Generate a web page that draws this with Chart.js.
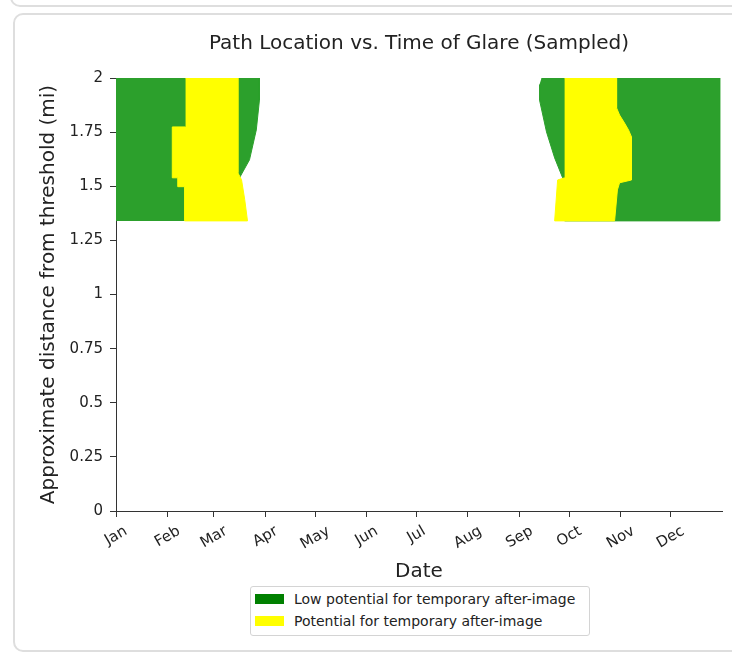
<!DOCTYPE html>
<html>
<head>
<meta charset="utf-8">
<script src="https://cdn.jsdelivr.net/npm/chart.js@4.4.0/dist/chart.umd.min.js"></script>
<style>
html,body{margin:0;padding:0;background:#fff;width:732px;height:654px;overflow:hidden;font-family:"DejaVu Sans",sans-serif;}
#prev{position:absolute;left:10px;top:-40px;width:780px;height:47px;border:2px solid #dedede;border-radius:10px;box-sizing:border-box;}
#card{position:absolute;left:13px;top:13px;width:780px;height:639px;border:2px solid #dedede;border-radius:10px;box-sizing:border-box;}
#wrap{position:absolute;left:0;top:0;width:732px;height:654px;}
#legend{position:absolute;left:250px;top:586px;width:340px;height:50px;border:1px solid #d4d4d4;border-radius:3px;box-sizing:border-box;background:#fff;font-size:14px;color:#222;}
.item{position:absolute;left:4px;height:20px;line-height:20px;white-space:nowrap;}
.sw{display:inline-block;width:29px;height:10px;vertical-align:middle;margin-right:10px;position:relative;top:-1px;}
</style>
</head>
<body>
<div id="prev"></div>
<div id="card"></div>
<div id="wrap"><canvas id="c" width="732" height="654"></canvas></div>
<div id="legend"></div>
<script>
// ---- text ----
const chartTitle = 'Path Location vs. Time of Glare (Sampled)';
const xTitle = 'Date';
const yTitle = 'Approximate distance from threshold (mi)';
const monthLabels = ['Jan','Feb','Mar','Apr','May','Jun','Jul','Aug','Sep','Oct','Nov','Dec'];
const monthStartDays = [0,31,59,90,120,151,181,212,243,273,304,334];
const yTickValues = [0,0.25,0.5,0.75,1,1.25,1.5,1.75,2];

// ---- legend ----
const legendLabels = ['Low potential for temporary after-image','Potential for temporary after-image'];
const legendColors = ['#008000','#ffff00'];

// ---- glare regions (outline): x = day of year, y = distance (mi) ----
// Low potential (green), spring
const lowSpringDay = [0, 0, 86.4, 86.4, 84.5, 80.4, 74.4, 73.4, 73.4];
const lowSpringMi  = [1.34, 2.0, 2.0, 1.898, 1.76, 1.622, 1.539, 1.45, 1.34];
// Low potential (green), autumn
const lowAutumnDay = [256.3, 363.6, 363.6, 270.2, 270.2, 269.0, 264.2, 259.3, 255.1, 255.1];
const lowAutumnMi  = [2.0, 2.0, 1.34, 1.34, 1.53, 1.539, 1.631, 1.751, 1.898, 1.97];
// Potential (yellow), spring
const afterSpringDay = [41.9, 73.4, 73.4, 75.6, 77.5, 79.2, 41.3, 41.3, 37.2, 37.2, 33.9, 33.9, 41.9];
const afterSpringMi  = [2.0, 2.0, 1.562, 1.53, 1.44, 1.34, 1.34, 1.498, 1.498, 1.539, 1.539, 1.774, 1.774];
// Potential (yellow), autumn
const afterAutumnDay = [270.2, 301.5, 301.5, 303.3, 306.3, 308.7, 310.5, 310.5, 303.3, 302.0, 300.3, 264.2, 266.0, 270.2];
const afterAutumnMi  = [2.0, 2.0, 1.862, 1.829, 1.792, 1.76, 1.728, 1.529, 1.516, 1.483, 1.34, 1.34, 1.529, 1.539];

const plotGreen = '#2ca02c';
const plotYellow = '#ffff00';
const textColor = '#222';
const fontFam = '"DejaVu Sans", sans-serif';

function pts(xs, ys){ return xs.map((x,i)=>({x:x, y:ys[i]})); }
function region(label, xs, ys, color, order){
  return {label, data: pts(xs, ys), borderColor: color, backgroundColor: color, borderWidth: 1,
    fill: 'shape', pointRadius: 0, pointHoverRadius: 0, tension: 0, order};
}

// legend (HTML)
const lg = document.getElementById('legend');
legendLabels.forEach((t,i)=>{
  const d = document.createElement('div');
  d.className='item'; d.style.top = (i===0 ? 2 : 24) + 'px';
  d.innerHTML = '<span class="sw" style="background:'+legendColors[i]+'"></span>';
  d.appendChild(document.createTextNode(t));
  lg.appendChild(d);
});

const decor = {
  id: 'decor',
  afterDraw(chart){
    const {ctx, chartArea: ca, scales: {x}} = chart;
    ctx.save();
    ctx.fillStyle = textColor;
    ctx.font = '20px ' + fontFam;
    ctx.textAlign = 'center'; ctx.textBaseline = 'middle';
    ctx.fillText(chartTitle, (ca.left + ca.right)/2, 44);
    const fs = 15;
    ctx.font = fs + 'px ' + fontFam;
    const a = Math.PI/6;
    monthStartDays.forEach((d,i)=>{
      const px = x.getPixelForValue(d);
      const w = ctx.measureText(monthLabels[i]).width;
      const boxH = w*Math.sin(a) + fs*0.95*Math.cos(a);
      const cy = ca.bottom + 13 + boxH/2;
      ctx.save(); ctx.translate(px, cy); ctx.rotate(-a);
      ctx.fillText(monthLabels[i], 0, 0);
      ctx.restore();
    });
    ctx.restore();
  }
};

new Chart(document.getElementById('c'), {
  type: 'line',
  data: { datasets: [
    region('Potential for temporary after-image', afterSpringDay, afterSpringMi, plotYellow, 0),
    region('Potential for temporary after-image', afterAutumnDay, afterAutumnMi, plotYellow, 0),
    region('Low potential for temporary after-image', lowSpringDay, lowSpringMi, plotGreen, 1),
    region('Low potential for temporary after-image', lowAutumnDay, lowAutumnMi, plotGreen, 1)
  ]},
  options: {
    responsive: false, animation: false, events: [],
    layout: { padding: { left: 0, right: 10, top: 78, bottom: 63 } },
    plugins: { legend: {display:false}, tooltip: {enabled:false}, title: {display:false} },
    scales: {
      x: {
        type: 'linear', min: 0, max: 365,
        afterBuildTicks(s){ s.ticks = monthStartDays.map(v=>({value:v})); },
        afterFit(s){ s.height = 80; },
        ticks: { display: false },
        grid: { drawOnChartArea: false, drawTicks: true, tickLength: 6, color: '#333', lineWidth: 1 },
        border: { display: true, color: '#333', width: 1 },
        title: { display: true, text: xTitle, color: textColor, font: {family: fontFam, size: 20}, padding: {top: 0, bottom: 7} }
      },
      y: {
        type: 'linear', min: 0, max: 2,
        afterBuildTicks(s){ s.ticks = yTickValues.map(v=>({value:v})); },
        afterFit(s){ s.width = 116; },
        ticks: { color: textColor, font: {family: fontFam, size: 15}, padding: 7, callback: v => String(v) },
        grid: { drawOnChartArea: false, drawTicks: true, tickLength: 6, color: '#333', lineWidth: 1 },
        border: { display: true, color: '#333', width: 1 },
        title: { display: true, text: yTitle, color: textColor, font: {family: fontFam, size: 20}, padding: {top: 37, bottom: 0} }
      }
    }
  },
  plugins: [decor]
});
</script>
</body>
</html>
